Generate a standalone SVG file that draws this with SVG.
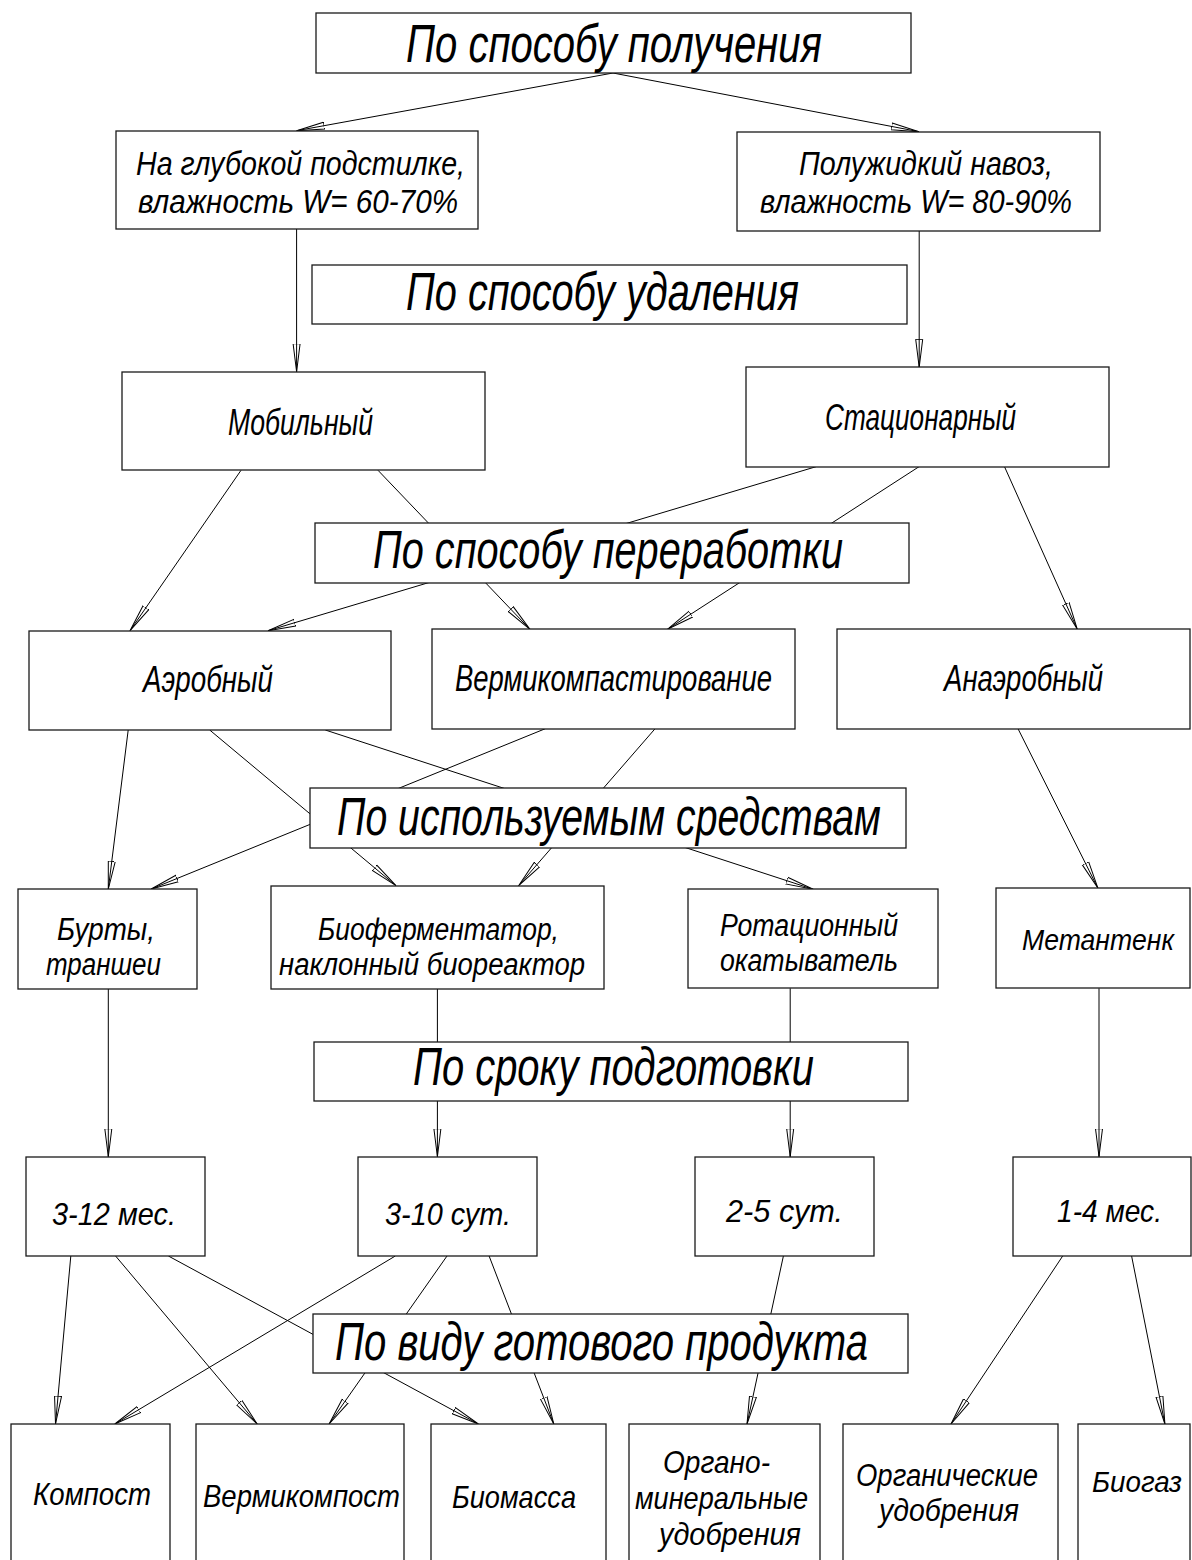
<svg xmlns="http://www.w3.org/2000/svg" width="1192" height="1560" viewBox="0 0 1192 1560">
<style>
.box{fill:#fff;stroke:#1a1a1a;stroke-width:1.3}
.ln{stroke:#000;stroke-width:1;fill:none;marker-end:url(#ah)}
text{font-family:"Liberation Sans",Arial,sans-serif;font-style:italic;fill:#000;text-anchor:middle}
.h{font-size:53px}
.t{font-size:36px}
.m{font-size:34px}
.s{font-size:32px}
.x{font-size:31px}
.e{font-size:29.5px;text-anchor:start}
</style>
<defs>
<marker id="ah" markerUnits="userSpaceOnUse" markerWidth="30" markerHeight="10" refX="28" refY="4" orient="auto" viewBox="0 0 30 8">
<path d="M0,0.5 L28,4 L0,7.5 Z" fill="none" stroke="#000" stroke-width="1"/>
</marker>
</defs>
<rect width="1192" height="1560" fill="#fff"/>
<g id="connectors">
<line class="ln" x1="613" y1="73" x2="296.6" y2="130.7"/>
<line class="ln" x1="613" y1="73" x2="919" y2="131.7"/>
<line class="ln" x1="296.6" y1="229" x2="296.6" y2="371.7"/>
<line class="ln" x1="919.2" y1="231" x2="919.2" y2="367.3"/>
<line class="ln" x1="241" y1="470.3" x2="130" y2="630.7"/>
<line class="ln" x1="378" y1="470.3" x2="530" y2="629.3"/>
<line class="ln" x1="816" y1="466.7" x2="268" y2="630.7"/>
<line class="ln" x1="919" y1="466.7" x2="667.4" y2="629.3"/>
<line class="ln" x1="1004.5" y1="466.7" x2="1077.3" y2="629.3"/>
<line class="ln" x1="128.2" y1="730" x2="108.3" y2="889"/>
<line class="ln" x1="209.7" y1="730" x2="396" y2="885.7"/>
<line class="ln" x1="325.3" y1="730" x2="813.2" y2="889.3"/>
<line class="ln" x1="545.3" y1="728.7" x2="151.2" y2="889"/>
<line class="ln" x1="655.1" y1="728.7" x2="518.6" y2="885.7"/>
<line class="ln" x1="1018" y1="728.7" x2="1098" y2="888.3"/>
<line class="ln" x1="108.3" y1="989" x2="108.3" y2="1156.7"/>
<line class="ln" x1="437.4" y1="989" x2="437.4" y2="1156.7"/>
<line class="ln" x1="790.2" y1="988.3" x2="790.2" y2="1156.7"/>
<line class="ln" x1="1099" y1="988.3" x2="1099" y2="1156.7"/>
<line class="ln" x1="70.8" y1="1256" x2="55.5" y2="1424"/>
<line class="ln" x1="115.6" y1="1256" x2="257.2" y2="1424"/>
<line class="ln" x1="168.4" y1="1256" x2="478.4" y2="1424"/>
<line class="ln" x1="395.3" y1="1256" x2="114.8" y2="1424"/>
<line class="ln" x1="447" y1="1256" x2="329.1" y2="1424"/>
<line class="ln" x1="489.1" y1="1256" x2="553.8" y2="1424"/>
<line class="ln" x1="783.4" y1="1256" x2="747" y2="1424"/>
<line class="ln" x1="1062.7" y1="1256" x2="951" y2="1424"/>
<line class="ln" x1="1131.6" y1="1256" x2="1164.9" y2="1424"/>
</g>
<g id="h1"><rect class="box" x="316" y="13" width="595" height="60"/><text class="h" x="614" y="62" textLength="416" lengthAdjust="spacingAndGlyphs">По способу получения</text></g>
<g id="n_podstilka"><rect class="box" x="116" y="131" width="362" height="98"/><text class="m" x="300.5" y="175" textLength="329" lengthAdjust="spacingAndGlyphs">На глубокой подстилке,</text><text class="m" x="298" y="213" textLength="320" lengthAdjust="spacingAndGlyphs">влажность W= 60-70%</text></g>
<g id="n_poluzhidkiy"><rect class="box" x="737" y="132" width="363" height="99"/><text class="m" x="926" y="175" textLength="254" lengthAdjust="spacingAndGlyphs">Полужидкий навоз,</text><text class="m" x="916" y="213" textLength="312" lengthAdjust="spacingAndGlyphs">влажность W= 80-90%</text></g>
<g id="h2"><rect class="box" x="312" y="265" width="595" height="59"/><text class="h" x="602.5" y="310" textLength="393" lengthAdjust="spacingAndGlyphs">По способу удаления</text></g>
<g id="n_mobil"><rect class="box" x="122" y="372" width="363" height="98"/><text class="t" x="300.5" y="435" textLength="145" lengthAdjust="spacingAndGlyphs">Мобильный</text></g>
<g id="n_stac"><rect class="box" x="746" y="367" width="363" height="100"/><text class="t" x="920.5" y="430" textLength="191" lengthAdjust="spacingAndGlyphs">Стационарный</text></g>
<g id="h3"><rect class="box" x="315" y="523" width="594" height="60"/><text class="h" x="608" y="568" textLength="470" lengthAdjust="spacingAndGlyphs">По способу переработки</text></g>
<g id="n_aerob"><rect class="box" x="29" y="631" width="362" height="99"/><text class="t" x="208" y="692" textLength="130" lengthAdjust="spacingAndGlyphs">Аэробный</text></g>
<g id="n_verm"><rect class="box" x="432" y="629" width="363" height="100"/><text class="t" x="613.5" y="691" textLength="317" lengthAdjust="spacingAndGlyphs">Вермикомпастирование</text></g>
<g id="n_anaerob"><rect class="box" x="837" y="629" width="353" height="100"/><text class="t" x="1023.5" y="691" textLength="159" lengthAdjust="spacingAndGlyphs">Анаэробный</text></g>
<g id="h4"><rect class="box" x="310" y="788" width="596" height="60"/><text class="h" x="609" y="835" textLength="544" lengthAdjust="spacingAndGlyphs">По используемым средствам</text></g>
<g id="n_burty"><rect class="box" x="18" y="889" width="179" height="100"/><text class="x" x="106" y="940" textLength="98" lengthAdjust="spacingAndGlyphs">Бурты,</text><text class="x" x="103.5" y="975" textLength="115" lengthAdjust="spacingAndGlyphs">траншеи</text></g>
<g id="n_bioferm"><rect class="box" x="271" y="886" width="333" height="103"/><text class="x" x="438.5" y="940" textLength="241" lengthAdjust="spacingAndGlyphs">Биоферментатор,</text><text class="x" x="432" y="975" textLength="306" lengthAdjust="spacingAndGlyphs">наклонный биореактор</text></g>
<g id="n_rotac"><rect class="box" x="688" y="889" width="250" height="99"/><text class="x" x="809" y="936" textLength="178" lengthAdjust="spacingAndGlyphs">Ротационный</text><text class="x" x="809" y="971" textLength="178" lengthAdjust="spacingAndGlyphs">окатыватель</text></g>
<g id="n_metan"><rect class="box" x="996" y="888" width="194" height="100"/><text class="e" x="1022" y="950" textLength="152" lengthAdjust="spacingAndGlyphs">Метантенк</text></g>
<g id="h5"><rect class="box" x="314" y="1042" width="594" height="59"/><text class="h" x="613.5" y="1085" textLength="401" lengthAdjust="spacingAndGlyphs">По сроку подготовки</text></g>
<g id="n_t1"><rect class="box" x="26" y="1157" width="179" height="99"/><text class="s" x="114" y="1225" textLength="124" lengthAdjust="spacingAndGlyphs">3-12 мес.</text></g>
<g id="n_t2"><rect class="box" x="358" y="1157" width="179" height="99"/><text class="s" x="448" y="1225" textLength="126" lengthAdjust="spacingAndGlyphs">3-10 сут.</text></g>
<g id="n_t3"><rect class="box" x="695" y="1157" width="179" height="99"/><text class="s" x="784.5" y="1222" textLength="117" lengthAdjust="spacingAndGlyphs">2-5 сут.</text></g>
<g id="n_t4"><rect class="box" x="1013" y="1157" width="178" height="99"/><text class="s" x="1109.5" y="1222" textLength="105" lengthAdjust="spacingAndGlyphs">1-4 мес.</text></g>
<g id="h6"><rect class="box" x="313" y="1314" width="595" height="59"/><text class="h" x="601.5" y="1360" textLength="533" lengthAdjust="spacingAndGlyphs">По виду готового продукта</text></g>
<g id="n_kompost"><rect class="box" x="11" y="1424" width="159" height="150"/><text class="s" x="92" y="1505" textLength="118" lengthAdjust="spacingAndGlyphs">Компост</text></g>
<g id="n_vermikompost"><rect class="box" x="196" y="1424" width="208" height="150"/><text class="s" x="301.5" y="1507" textLength="197" lengthAdjust="spacingAndGlyphs">Вермикомпост</text></g>
<g id="n_biomassa"><rect class="box" x="431" y="1424" width="175" height="150"/><text class="s" x="514" y="1508" textLength="124" lengthAdjust="spacingAndGlyphs">Биомасса</text></g>
<g id="n_orgmin"><rect class="box" x="629" y="1424" width="191" height="150"/><text class="s" x="716.5" y="1473" textLength="107" lengthAdjust="spacingAndGlyphs">Органо-</text><text class="s" x="721.5" y="1509" textLength="173" lengthAdjust="spacingAndGlyphs">минеральные</text><text class="s" x="730" y="1545" textLength="142" lengthAdjust="spacingAndGlyphs">удобрения</text></g>
<g id="n_organ"><rect class="box" x="843" y="1424" width="215" height="150"/><text class="x" x="947" y="1486" textLength="182" lengthAdjust="spacingAndGlyphs">Органические</text><text class="x" x="949" y="1521" textLength="140" lengthAdjust="spacingAndGlyphs">удобрения</text></g>
<g id="n_biogaz"><rect class="box" x="1078" y="1424" width="112" height="150"/><text class="e" x="1092" y="1492" textLength="90" lengthAdjust="spacingAndGlyphs">Биогаз</text></g>
</svg>
